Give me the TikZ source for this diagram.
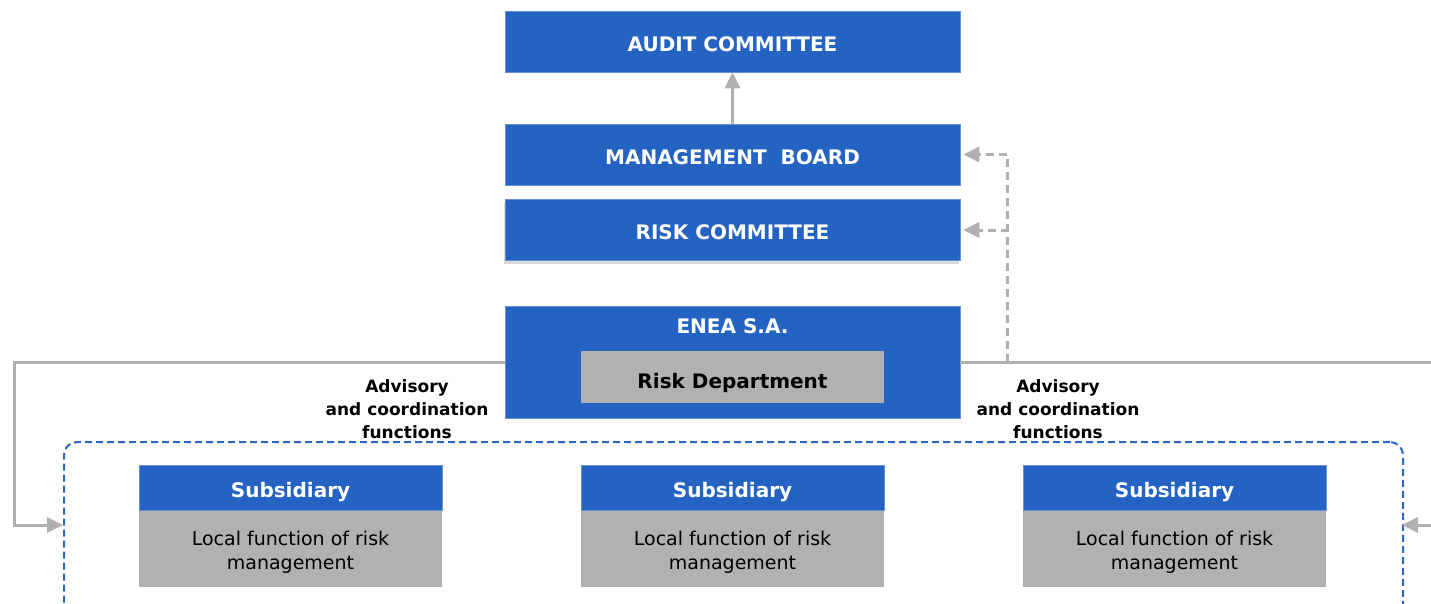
\documentclass[tikz,border=0pt]{standalone}
\usepackage{fontspec}
\setmainfont{DejaVu Sans}
\usetikzlibrary{arrows.meta,positioning,shadows}
\definecolor{boardblue}{HTML}{2563C3}
\definecolor{unitgrey}{HTML}{B1B0B3}
\definecolor{linkgrey}{HTML}{B0B0B0}
\definecolor{groupblue}{HTML}{2B66C9}

\begin{document}
\begin{tikzpicture}[x=1pt,y=-1pt,
 bluebox/.style={draw=boardblue!70!white,line width=0.6pt,fill=boardblue,text=white,inner sep=0pt,
  font=\fontsize{20}{24}\selectfont\bfseries,text height=19.5pt,text depth=0pt,minimum width=455pt,minimum height=61pt},
 greybox/.style={fill=unitgrey,inner sep=0pt,minimum width=303pt},
 greytext/.style={align=center,font=\fontsize{19}{24}\selectfont},
 subhead/.style={bluebox,minimum width=303pt,minimum height=45pt},
 advice/.style={align=center,font=\fontsize{17}{23}\selectfont\bfseries},
 wire/.style={-{Triangle[length=16pt,width=15pt]},draw=linkgrey,line width=3pt},
 dashwire/.style={wire,dash pattern=on 8pt off 5pt,shorten >=3pt},
 groupbox/.style={draw=groupblue,line width=2pt,dash pattern=on 7pt off 4pt,rounded corners=13pt,inner sep=0pt}]
\useasboundingbox (0,0) rectangle (1431,604);
\clip (0,0) rectangle (1431,604);
% top of the structure
\node[bluebox] (audit) at (732.5,41.5) {AUDIT COMMITTEE};
\node[bluebox] (board) at (732.5,154.5) {MANAGEMENT~~BOARD};
\node[bluebox,drop shadow={shadow xshift=-1.5pt,shadow yshift=-3pt,opacity=0.3}] (riskcom) at (732.5,230) {RISK COMMITTEE};
\node[bluebox,minimum height=112pt] (enea) at (732.5,362) {};
\node[text=white,font=\fontsize{20}{24}\selectfont\bfseries,below=9pt of enea.north] (enealbl) {ENEA S.A.};
\node[greybox,minimum height=52pt,font=\fontsize{20}{24}\selectfont\bfseries,text height=22.5pt,text depth=0pt] (riskdep) at (732.5,377) {Risk Department};
% subsidiaries
\node[groupbox,anchor=north west,minimum width=1339pt,minimum height=200pt] (group) at (63,441) {};
\coordinate (leftin) at (63,525);
\coordinate (rightin) at (1402,525);
\foreach \i/\cx in {1/290.5,2/732.5,3/1174.5}{
 \node[subhead] (sub\i) at (\cx,487.5) {Subsidiary};
 \node[greybox,minimum height=76pt,below=0pt of sub\i,
  label={[greytext,yshift=-4pt]center:Local function of risk\\management}] (local\i) {};
}
\node[advice] (advleft) at (407,409) {Advisory\\and coordination\\functions};
\node[advice] (advright) at (1058,409) {Advisory\\and coordination\\functions};
% connectors
\coordinate (tap) at (1007,362);
\draw[wire] (board.north) -- (audit.south);
\draw[dashwire] (tap) |- (board.east);
\draw[dashwire] (tap) |- (riskcom.east);
\draw[wire] (enea.west) -- ++(-490,0) |- (leftin);
\draw[wire] (enea.east) -- ++(490,0) |- (rightin);
\end{tikzpicture}
\end{document}
